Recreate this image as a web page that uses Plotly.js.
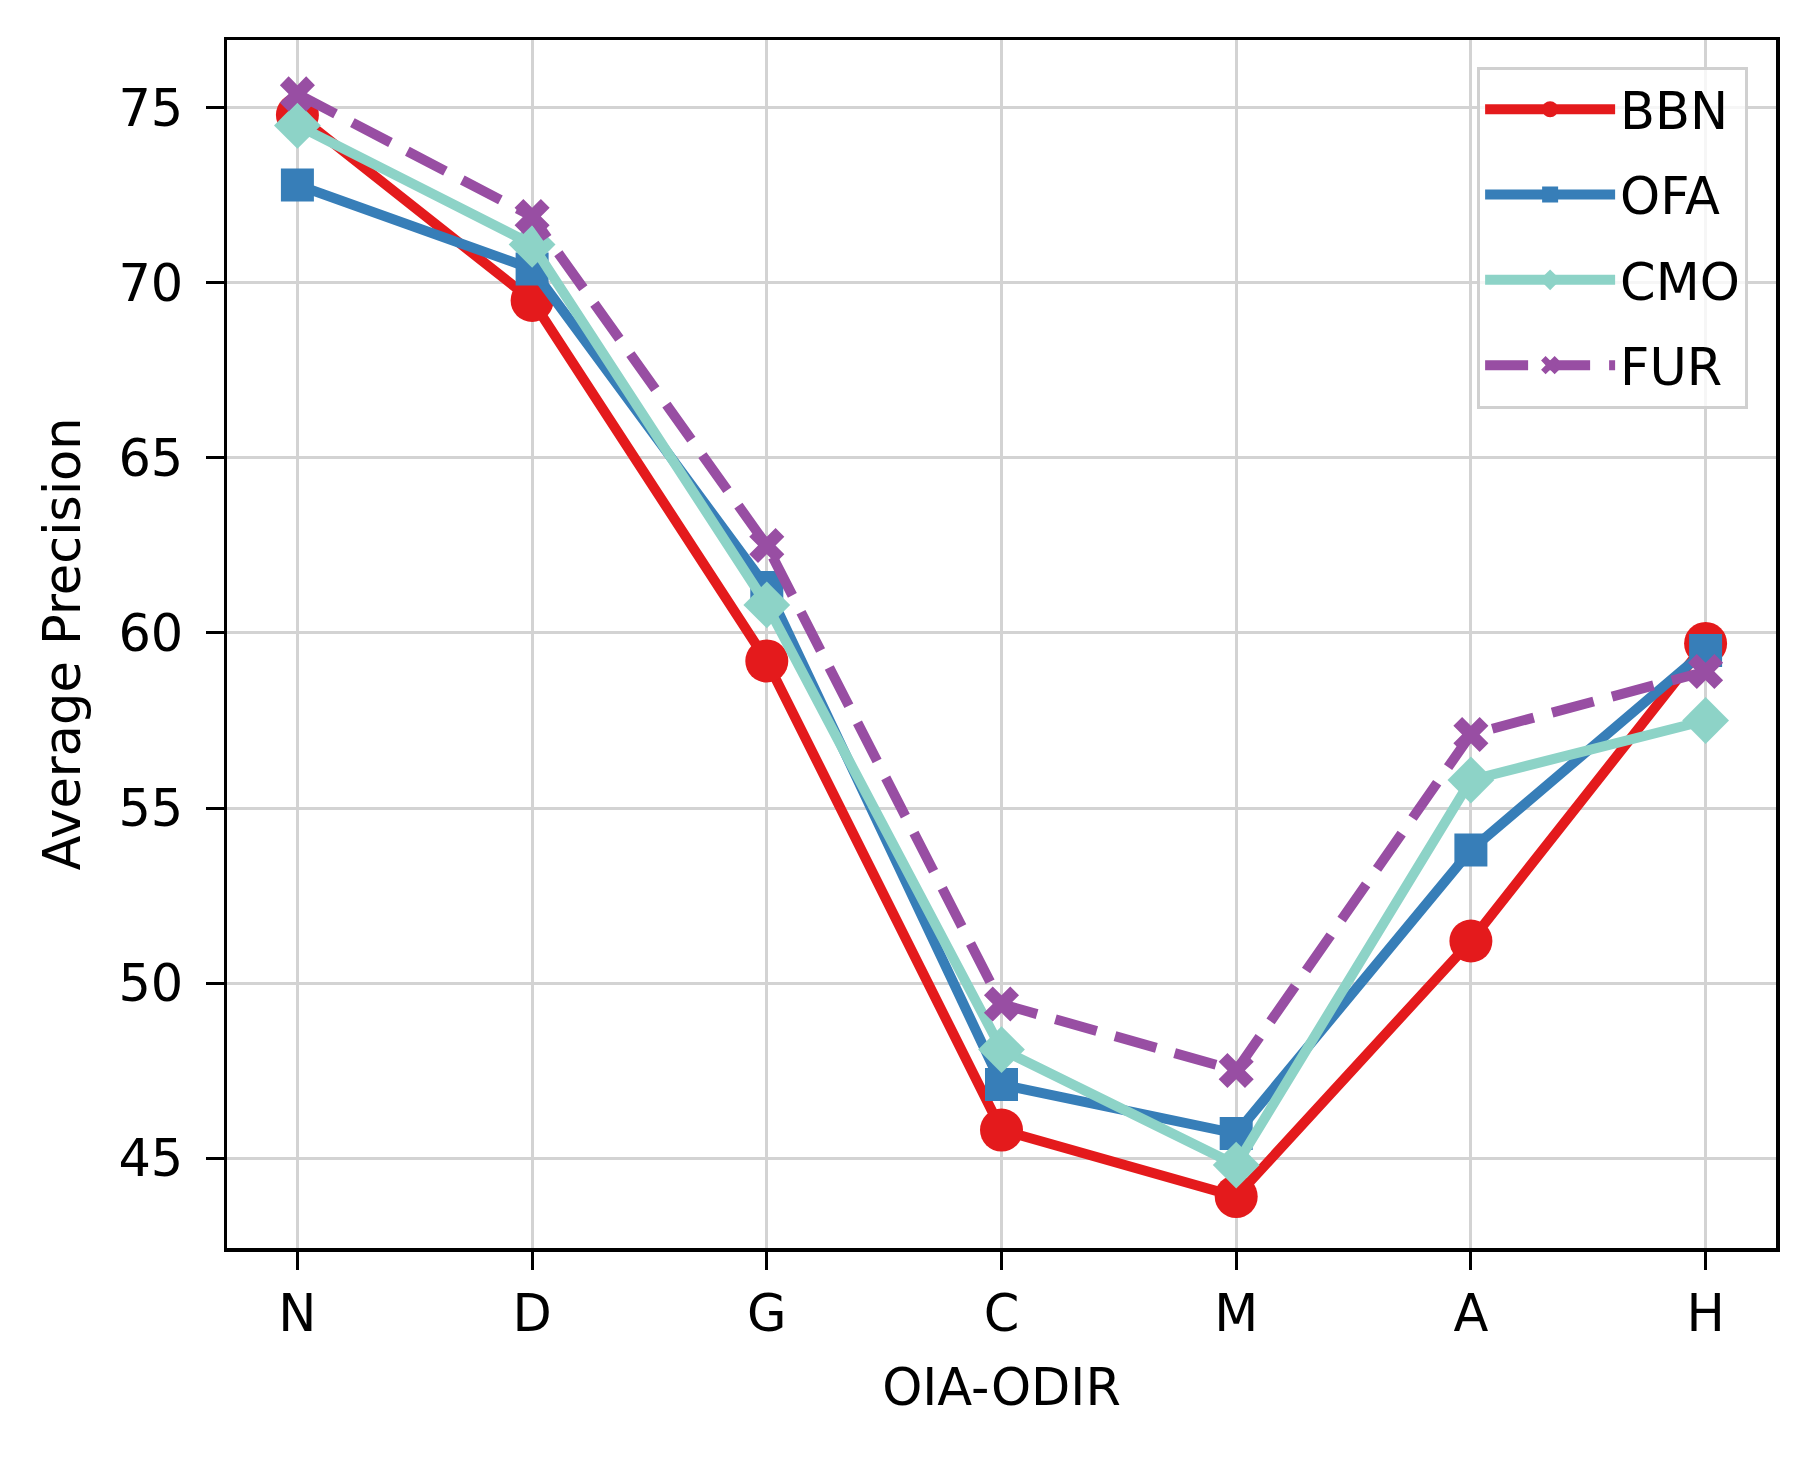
<!DOCTYPE html>
<html>
<head>
<meta charset="utf-8">
<script src="https://cdn.plot.ly/plotly-3.0.1.min.js"></script>
<style>html,body{margin:0;padding:0;background:#fff;}#chart{width:1815px;height:1457px;}</style>
</head>
<body>
<div id="chart"></div>
<script>
const categories = ["N", "D", "G", "C", "M", "A", "H"];
const seriesNames = ["BBN", "OFA", "CMO", "FUR"];
const bbn = [74.8, 69.5, 59.2, 45.8, 43.9, 51.2, 59.7];
const ofa = [72.8, 70.4, 61.3, 47.1, 45.7, 53.8, 59.5];
const cmo = [74.5, 71.1, 60.8, 48.1, 44.8, 55.8, 57.5];
const fur = [75.4, 71.9, 62.5, 49.4, 47.5, 57.1, 58.9];
const yTicks = [45, 50, 55, 60, 65, 70, 75];
const xTitle = "OIA-ODIR";
const yTitle = "Average Precision";

const FONT = "DejaVu Sans, Liberation Sans, sans-serif";
const styles = [
  {color: "#e41a1c", symbol: "circle", size: 43, dash: "solid"},
  {color: "#377eb8", symbol: "square", size: 33, dash: "solid"},
  {color: "#8dd3c7", symbol: "diamond", size: 36, dash: "solid"},
  {color: "#984ea3", symbol: "x", size: 31, dash: "43px,19px"}
];
const values = [bbn, ofa, cmo, fur];

const traces = values.map((v, i) => ({
  x: categories.map((c, k) => k),
  y: v,
  name: seriesNames[i],
  type: "scatter",
  mode: "lines+markers",
  legendgroup: seriesNames[i],
  line: {color: styles[i].color, width: 10, dash: styles[i].dash},
  marker: {color: styles[i].color, symbol: styles[i].symbol, size: styles[i].size, line: {width: 0}}
}));

const layout = {
  width: 1815,
  height: 1457,
  paper_bgcolor: "#ffffff",
  plot_bgcolor: "#ffffff",
  margin: {l: 227, r: 39, t: 40, b: 209, pad: 0},
  font: {family: FONT, size: 51, color: "#000000"},
  showlegend: true,
  legend: {
    x: 0.982, xanchor: "right", y: 0.978, yanchor: "top",
    bgcolor: "rgba(255,255,255,0.8)",
    bordercolor: "#d0d0d0", borderwidth: 3,
    font: {family: FONT, size: 51, color: "#000000"},
    tracegroupgap: 16,
    itemwidth: 130
  },
  xaxis: {
    range: [-0.3, 6.3],
    tickmode: "array",
    tickvals: categories.map((c, k) => k),
    ticktext: categories,
    showgrid: true, gridcolor: "#d3d3d3", gridwidth: 3,
    zeroline: false,
    showline: true, linecolor: "#000000", linewidth: 3.5, mirror: true,
    ticks: "outside", ticklen: 18, tickwidth: 3, tickcolor: "#000000",
    ticklabelstandoff: 0,
    tickfont: {family: FONT, size: 51, color: "#000000"},
    title: {text: xTitle, font: {family: FONT, size: 51, color: "#000000"}, standoff: 28}
  },
  yaxis: {
    range: [42.43, 76.94],
    tickmode: "array",
    tickvals: yTicks,
    ticktext: yTicks.map(String),
    showgrid: true, gridcolor: "#d3d3d3", gridwidth: 3,
    zeroline: false,
    showline: true, linecolor: "#000000", linewidth: 3.5, mirror: true,
    ticks: "outside", ticklen: 18, tickwidth: 3, tickcolor: "#000000",
    ticklabelstandoff: 12,
    tickfont: {family: FONT, size: 51, color: "#000000"},
    title: {text: yTitle, font: {family: FONT, size: 51, color: "#000000"}, standoff: 22}
  }
};

Plotly.newPlot("chart", traces, layout, {staticPlot: true, displayModeBar: false});
</script>
</body>
</html>
